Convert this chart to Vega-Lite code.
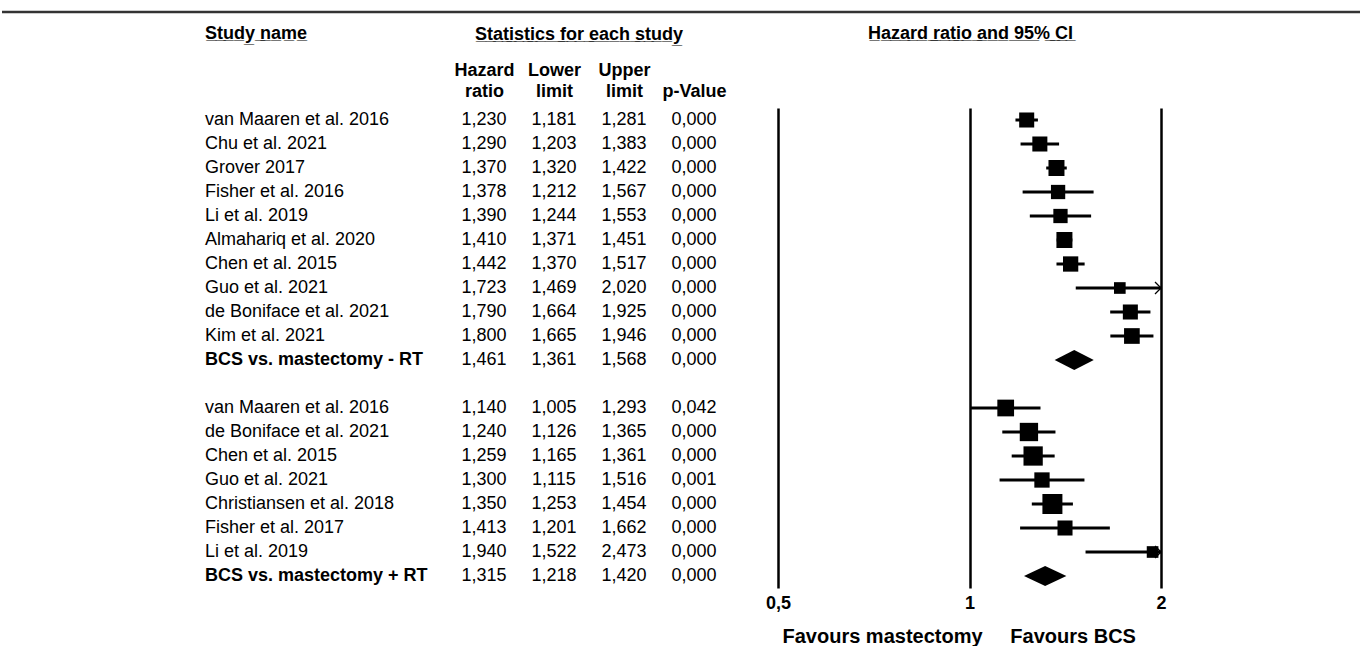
{
  "$schema": "https://vega.github.io/schema/vega-lite/v6.json",
  "padding": {"left": 0, "top": 10, "right": 0, "bottom": 0},
  "background": "white",
  "spacing": 95,
  "bounds": "flush",
  "config": {
    "font": "Liberation Sans",
    "view": {"stroke": null},
    "locale": {"number": {"decimal": ",", "thousands": ".", "grouping": [3], "currency": ["", ""]}},
    "title": {"fontSize": 18, "fontWeight": "bold", "color": "#000"}
  },
  "datasets": {
    "studies": [
      {"row": 1, "study": "van Maaren et al. 2016", "hr": 1.230, "lower": 1.181, "upper": 1.281, "p": 0.000, "weight": 11.3, "kind": "study"},
      {"row": 2, "study": "Chu et al. 2021", "hr": 1.290, "lower": 1.203, "upper": 1.383, "p": 0.000, "weight": 11.3, "kind": "study"},
      {"row": 3, "study": "Grover 2017", "hr": 1.370, "lower": 1.320, "upper": 1.422, "p": 0.000, "weight": 12.8, "kind": "study"},
      {"row": 4, "study": "Fisher et al. 2016", "hr": 1.378, "lower": 1.212, "upper": 1.567, "p": 0.000, "weight": 10.2, "kind": "study"},
      {"row": 5, "study": "Li et al. 2019", "hr": 1.390, "lower": 1.244, "upper": 1.553, "p": 0.000, "weight": 10.2, "kind": "study"},
      {"row": 6, "study": "Almahariq et al. 2020", "hr": 1.410, "lower": 1.371, "upper": 1.451, "p": 0.000, "weight": 12.8, "kind": "study"},
      {"row": 7, "study": "Chen et al. 2015", "hr": 1.442, "lower": 1.370, "upper": 1.517, "p": 0.000, "weight": 11.7, "kind": "study"},
      {"row": 8, "study": "Guo et al. 2021", "hr": 1.723, "lower": 1.469, "upper": 2.020, "p": 0.000, "weight": 6.8, "kind": "study"},
      {"row": 9, "study": "de Boniface et al. 2021", "hr": 1.790, "lower": 1.664, "upper": 1.925, "p": 0.000, "weight": 11.3, "kind": "study"},
      {"row": 10, "study": "Kim et al. 2021", "hr": 1.800, "lower": 1.665, "upper": 1.946, "p": 0.000, "weight": 12.3, "kind": "study"},
      {"row": 11, "study": "BCS vs. mastectomy - RT", "hr": 1.461, "lower": 1.361, "upper": 1.568, "p": 0.000, "kind": "pooled"},
      {"row": 13, "study": "van Maaren et al. 2016", "hr": 1.140, "lower": 1.005, "upper": 1.293, "p": 0.042, "weight": 14.0, "kind": "study"},
      {"row": 14, "study": "de Boniface et al. 2021", "hr": 1.240, "lower": 1.126, "upper": 1.365, "p": 0.000, "weight": 16.8, "kind": "study"},
      {"row": 15, "study": "Chen et al. 2015", "hr": 1.259, "lower": 1.165, "upper": 1.361, "p": 0.000, "weight": 18.6, "kind": "study"},
      {"row": 16, "study": "Guo et al. 2021", "hr": 1.300, "lower": 1.115, "upper": 1.516, "p": 0.001, "weight": 11.7, "kind": "study"},
      {"row": 17, "study": "Christiansen et al. 2018", "hr": 1.350, "lower": 1.253, "upper": 1.454, "p": 0.000, "weight": 20.0, "kind": "study"},
      {"row": 18, "study": "Fisher et al. 2017", "hr": 1.413, "lower": 1.201, "upper": 1.662, "p": 0.000, "weight": 11.3, "kind": "study"},
      {"row": 19, "study": "Li et al. 2019", "hr": 1.940, "lower": 1.522, "upper": 2.473, "p": 0.000, "weight": 6.8, "kind": "study"},
      {"row": 20, "study": "BCS vs. mastectomy + RT", "hr": 1.315, "lower": 1.218, "upper": 1.420, "p": 0.000, "kind": "pooled"}
    ]
  },
  "vconcat": [
    {
      "width": 1360,
      "height": 1,
      "data": {"values": [{}]},
      "mark": {"type": "rule", "stroke": "#333", "strokeWidth": 2.5},
      "encoding": {"y": {"value": 0}}
    },
    {
      "bounds": "flush",
      "spacing": 10,
      "hconcat": [
        {
          "width": 406,
          "height": 480,
          "title": {"text": "S\u0332t\u0332u\u0332d\u0332y\u0332 \u0332n\u0332a\u0332m\u0332e\u0332", "anchor": "middle", "align": "left", "offset": 65},
          "data": {"name": "studies"},
          "encoding": {
            "y": {"field": "row", "type": "quantitative", "scale": {"domain": [0.5, 20.5], "reverse": true, "nice": false, "zero": false}, "axis": null},
            "text": {"field": "study", "type": "nominal"}
          },
          "layer": [
            {
              "transform": [{"filter": "datum.kind === 'study'"}],
              "mark": {"type": "text", "align": "left", "baseline": "middle", "fontSize": 18, "fill": "#000"}
            },
            {
              "transform": [{"filter": "datum.kind === 'pooled'"}],
              "mark": {"type": "text", "align": "left", "baseline": "middle", "fontSize": 18, "fontWeight": "bold", "fill": "#000"}
            }
          ]
        },
        {
          "width": 350,
          "height": 480,
          "title": {"text": "S\u0332t\u0332a\u0332t\u0332i\u0332s\u0332t\u0332i\u0332c\u0332s\u0332 \u0332f\u0332o\u0332r\u0332 \u0332e\u0332a\u0332c\u0332h\u0332 \u0332s\u0332t\u0332u\u0332d\u0332y\u0332", "anchor": "middle", "dx": -14, "offset": 17},
          "data": {"name": "studies"},
          "transform": [{"fold": ["hr", "lower", "upper", "p"], "as": ["stat", "value"]}],
          "mark": {"type": "text", "baseline": "middle", "fontSize": 18, "fill": "#000"},
          "encoding": {
            "x": {
              "field": "stat",
              "type": "nominal",
              "scale": {"type": "point", "domain": ["hr", "lower", "upper", "p"], "padding": 1, "align": 0.471},
              "axis": {
                "orient": "top",
                "title": null,
                "labelExpr": "datum.value === 'hr' ? ['Hazard', 'ratio'] : datum.value === 'lower' ? ['Lower', 'limit'] : datum.value === 'upper' ? ['Upper', 'limit'] : [' ', 'p-Value']",
                "labelFontSize": 18,
                "labelFontWeight": "bold",
                "labelColor": "#000",
                "labelLineHeight": 21,
                "labelAngle": 0,
                "labelPadding": 29,
                "labelOverlap": false,
                "labelBound": false,
                "ticks": false,
                "domain": false
              }
            },
            "y": {"field": "row", "type": "quantitative", "scale": {"domain": [0.5, 20.5], "reverse": true, "nice": false, "zero": false}, "axis": null},
            "text": {"field": "value", "type": "quantitative", "format": ".3f"}
          }
        },
        {
          "width": 383,
          "height": 480,
          "title": {"text": "H\u0332a\u0332z\u0332a\u0332r\u0332d\u0332 \u0332r\u0332a\u0332t\u0332i\u0332o\u0332 \u0332a\u0332n\u0332d\u0332 \u03329\u03325\u0332%\u0332 \u0332C\u0332I\u0332", "anchor": "middle", "dx": 1, "offset": 65},
          "data": {"name": "studies"},
          "encoding": {
            "y": {"field": "row", "type": "quantitative", "scale": {"domain": [0.5, 20.5], "reverse": true, "nice": false, "zero": false}, "axis": null}
          },
          "layer": [
            {
              "transform": [{"filter": "datum.kind === 'study'"}],
              "mark": {"type": "rule", "strokeWidth": 3, "color": "#000", "clip": true},
              "encoding": {
                "x": {
                  "field": "lower",
                  "type": "quantitative",
                  "scale": {"type": "log", "domain": [0.5, 2], "nice": false},
                  "axis": {
                    "values": [0.5, 1, 2],
                    "format": ".1~f",
                    "grid": true,
                    "gridColor": "#000",
                    "gridWidth": 2.5,
                    "gridOpacity": 1,
                    "domain": false,
                    "ticks": false,
                    "labelFontSize": 18,
                    "labelFontWeight": "bold",
                    "labelColor": "#000",
                    "labelPadding": 6,
                    "labelFlush": false,
                    "labelOverlap": false,
                    "labelBound": false,
                    "title": "Favours mastectomy\u00a0\u00a0\u00a0\u00a0\u00a0Favours BCS",
                    "titleFontSize": 20,
                    "titleFontWeight": "bold",
                    "titleColor": "#000",
                    "titlePadding": 14,
                    "titleAlign": "left",
                    "titleX": 4
                  }
                },
                "x2": {"field": "upper"}
              }
            },
            {
              "transform": [{"filter": "datum.kind === 'study'"}],
              "mark": {"type": "point", "shape": "square", "filled": true, "color": "#000", "opacity": 1},
              "encoding": {
                "x": {"field": "hr", "type": "quantitative"},
                "size": {"field": "weight", "type": "quantitative", "scale": {"domain": [0, 20], "range": [0, 400]}, "legend": null}
              }
            },
            {
              "transform": [{"filter": "datum.kind === 'study' && datum.upper > 2"}],
              "mark": {"type": "point", "shape": "M-1,-1L0,0L-1,1", "filled": false, "stroke": "#000", "strokeWidth": 1.3, "size": 144, "opacity": 1},
              "encoding": {"x": {"datum": 2, "type": "quantitative"}}
            },
            {
              "transform": [
                {"filter": "datum.kind === 'pooled'"},
                {"fold": ["lower", "hr", "upper"], "as": ["stat", "est"]},
                {"calculate": "datum.stat === 'hr' ? 0.42 : 0", "as": "half"},
                {"calculate": "datum.row - datum.half", "as": "top"},
                {"calculate": "datum.row + datum.half", "as": "bottom"}
              ],
              "mark": {"type": "area", "orient": "vertical", "color": "#000", "opacity": 1},
              "encoding": {
                "x": {"field": "est", "type": "quantitative"},
                "y": {"field": "top", "type": "quantitative"},
                "y2": {"field": "bottom"},
                "detail": {"field": "row", "type": "nominal"}
              }
            }
          ]
        }
      ]
    }
  ]
}
